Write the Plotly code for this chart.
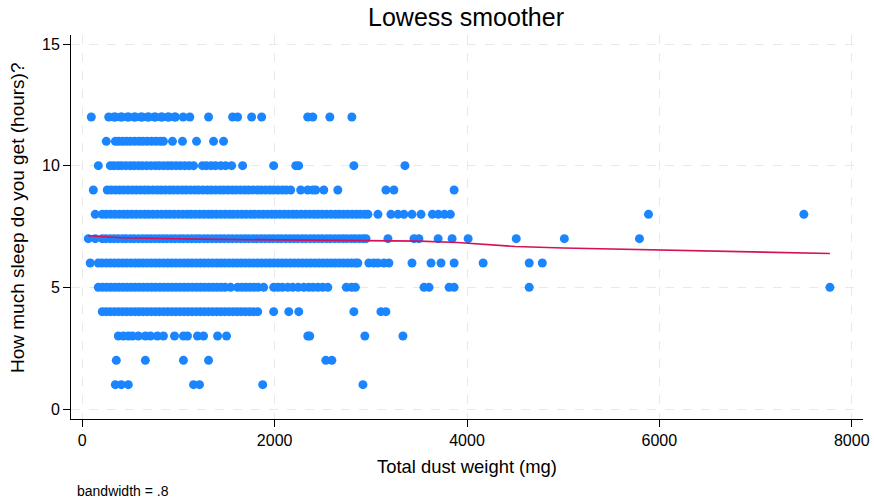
import plotly.graph_objects as go

# ---- data: dust weight (mg) per sleep-hours row ----
sleep_12 = [94, 275, 330, 344, 400, 413, 470, 483, 540, 552, 610, 622, 680, 691, 750, 761, 820, 830,
            890, 900, 960, 969, 1049, 1118, 1313, 1563, 1615, 1761, 1865, 2344, 2397, 2574, 2803]
sleep_11 = [250, 344, 380, 420, 460, 500, 545, 590, 630, 675, 720, 765, 810, 844, 938, 1042, 1188, 1365, 1469]
sleep_10 = [167, 292, 330, 375, 410, 455, 500, 540, 585, 625, 670, 715, 760, 800, 845, 890, 930, 975,
            1020, 1065, 1110, 1157, 1250, 1290, 1340, 1385, 1440, 1490, 1553, 1667, 1990, 2220, 2250,
            2824, 3355]
sleep_9 = [115, 260, 300, 345, 390, 430, 475, 520, 560, 605, 650, 690, 735, 780, 820, 865, 910, 950,
           995, 1040, 1080, 1125, 1170, 1210, 1255, 1300, 1340, 1385, 1430, 1470, 1515, 1560, 1600,
           1645, 1690, 1730, 1775, 1820, 1860, 1905, 1950, 1990, 2035, 2080, 2120, 2167, 2271, 2344,
           2396, 2427, 2511, 2657, 3157, 3240, 3866]
sleep_8 = [135, 208, 250, 295, 340, 385, 430, 470, 515, 560, 605, 650, 690, 735, 780, 825, 870, 910,
           955, 1000, 1045, 1090, 1130, 1175, 1220, 1265, 1310, 1350, 1395, 1440, 1485, 1530, 1570,
           1615, 1660, 1705, 1750, 1790, 1835, 1880, 1925, 1970, 2010, 2055, 2100, 2145, 2190, 2230,
           2275, 2320, 2365, 2410, 2450, 2495, 2540, 2585, 2630, 2670, 2715, 2760, 2805, 2850, 2890,
           2935, 2970, 3074, 3209, 3282, 3344, 3428, 3522, 3640, 3702, 3765, 3827, 5887, 7502]
sleep_7 = [63, 135, 208, 245, 290, 330, 372, 418, 455, 500, 540, 585, 628, 670, 710, 755, 798, 840,
           880, 925, 965, 1010, 1050, 1095, 1138, 1180, 1220, 1265, 1305, 1350, 1392, 1435, 1475,
           1520, 1560, 1605, 1648, 1690, 1730, 1775, 1815, 1860, 1902, 1945, 1985, 2030, 2070, 2115,
           2158, 2200, 2240, 2285, 2325, 2370, 2412, 2455, 2495, 2540, 2580, 2625, 2668, 2710, 2750,
           2795, 2835, 2880, 2920, 2950, 3178, 3449, 3500, 3700, 3845, 4012, 4512, 5012, 5793]
sleep_6 = [83, 167, 205, 250, 292, 335, 378, 420, 462, 505, 548, 590, 632, 675, 718, 760, 802, 845,
           888, 930, 972, 1015, 1058, 1100, 1142, 1185, 1228, 1270, 1312, 1355, 1398, 1440, 1482,
           1525, 1568, 1610, 1652, 1695, 1738, 1780, 1822, 1865, 1908, 1950, 1992, 2035, 2078, 2120,
           2162, 2205, 2248, 2290, 2332, 2375, 2418, 2460, 2502, 2545, 2588, 2630, 2672, 2715, 2758,
           2800, 2842, 2865, 2980, 3030, 3074, 3136, 3188, 3428, 3626, 3730, 3866, 4168, 4647, 4783]
sleep_5 = [167, 210, 252, 295, 338, 380, 422, 465, 508, 550, 592, 635, 678, 720, 762, 805, 848, 890,
           932, 975, 1018, 1060, 1102, 1145, 1188, 1230, 1272, 1315, 1358, 1400, 1442, 1485, 1542,
           1615, 1658, 1700, 1742, 1785, 1828, 1886, 1990, 2035, 2080, 2136, 2188, 2245, 2303, 2355,
           2400, 2450, 2500, 2553, 2745, 2800, 2840, 3553, 3605, 3814, 3866, 4647, 7773]
sleep_4 = [208, 250, 292, 335, 378, 420, 462, 505, 548, 590, 632, 675, 718, 760, 802, 845, 888, 930,
           972, 1015, 1058, 1100, 1142, 1185, 1228, 1270, 1312, 1355, 1398, 1440, 1482, 1525, 1568,
           1610, 1652, 1695, 1738, 1780, 1824, 1990, 2147, 2251, 2824, 3105, 3157]
sleep_3 = [375, 427, 479, 521, 583, 656, 709, 781, 844, 959, 1052, 1094, 1198, 1261, 1407, 1500,
           2345, 2365, 2938, 3334]
sleep_2 = [354, 656, 1052, 1313, 2532, 2595]
sleep_1 = [344, 406, 479, 1157, 1219, 1876, 2918]

rows = {12: sleep_12, 11: sleep_11, 10: sleep_10, 9: sleep_9, 8: sleep_8, 7: sleep_7,
        6: sleep_6, 5: sleep_5, 4: sleep_4, 3: sleep_3, 2: sleep_2, 1: sleep_1}

# lowess curve
lowess_x = [63, 400, 1200, 2000, 2900, 3500, 3900, 4500, 5000, 6000, 7773]
lowess_y = [7.12, 7.04, 6.98, 6.96, 6.94, 6.90, 6.84, 6.68, 6.62, 6.53, 6.39]

x_ticks = [0, 2000, 4000, 6000, 8000]
y_ticks = [0, 5, 10, 15]

xs, ys = [], []
for h, vals in rows.items():
    xs += vals
    ys += [h] * len(vals)

FONT = "Liberation Sans, Arial, sans-serif"

fig = go.Figure()
fig.add_trace(go.Scatter(x=xs, y=ys, mode="markers",
                         marker=dict(color="#1A85FF", size=9, line=dict(width=0)),
                         showlegend=False, hoverinfo="skip"))
fig.add_trace(go.Scatter(x=lowess_x, y=lowess_y, mode="lines",
                         line=dict(color="#D51159", width=1.6),
                         showlegend=False, hoverinfo="skip"))

W, H = 874, 502
L, R, T, B = 71, 863, 35, 419

axis_common = dict(showline=True, linecolor="black", linewidth=1, ticks="outside",
                   ticklen=7, tickcolor="black", tickwidth=1, showgrid=True,
                   gridcolor="#E9E9E9", gridwidth=1, griddash="dash", zeroline=False,
                   automargin=False,
                   tickfont=dict(family=FONT, size=16, color="black"))

fig.update_layout(
    template="none",
    width=W, height=H,
    margin=dict(l=L, r=W - R, t=T, b=H - B, pad=0, autoexpand=False),
    paper_bgcolor="white", plot_bgcolor="white",
    title=dict(text="Lowess smoother", x=466 / W, xref="container", xanchor="center",
               y=1 - 17 / H, yref="container", yanchor="middle",
               font=dict(family=FONT, size=25, color="black")),
    xaxis=dict(range=[-117, 8117], tickvals=x_ticks,
               ticktext=[str(v) for v in x_ticks], **axis_common),
    yaxis=dict(range=[-0.41, 15.37], tickvals=y_ticks,
               ticktext=[str(v) for v in y_ticks], **axis_common),
    annotations=[
        dict(text="Total dust weight (mg)", xref="paper", yref="paper",
             x=(467 - L) / (R - L), y=(B - 466) / (B - T),
             xanchor="center", yanchor="middle",
             showarrow=False, font=dict(family=FONT, size=18.4, color="black")),
        dict(text="How much sleep do you get (hours)?", xref="paper", yref="paper",
             x=(17 - L) / (R - L), y=(B - 218) / (B - T),
             xanchor="center", yanchor="middle",
             textangle=-90, showarrow=False, font=dict(family=FONT, size=19, color="black")),
        dict(text="bandwidth = .8", xref="paper", yref="paper",
             x=(75 - L) / (R - L), y=(B - 491) / (B - T),
             xanchor="left", yanchor="middle",
             showarrow=False, font=dict(family=FONT, size=14, color="black")),
    ],
)

# remove the default 8px page margin so the figure fills the window exactly
fig.write_html("out.html",
               config={"displayModeBar": False, "staticPlot": True},
               post_script="document.body.style.margin='0';document.body.style.overflow='hidden';")
